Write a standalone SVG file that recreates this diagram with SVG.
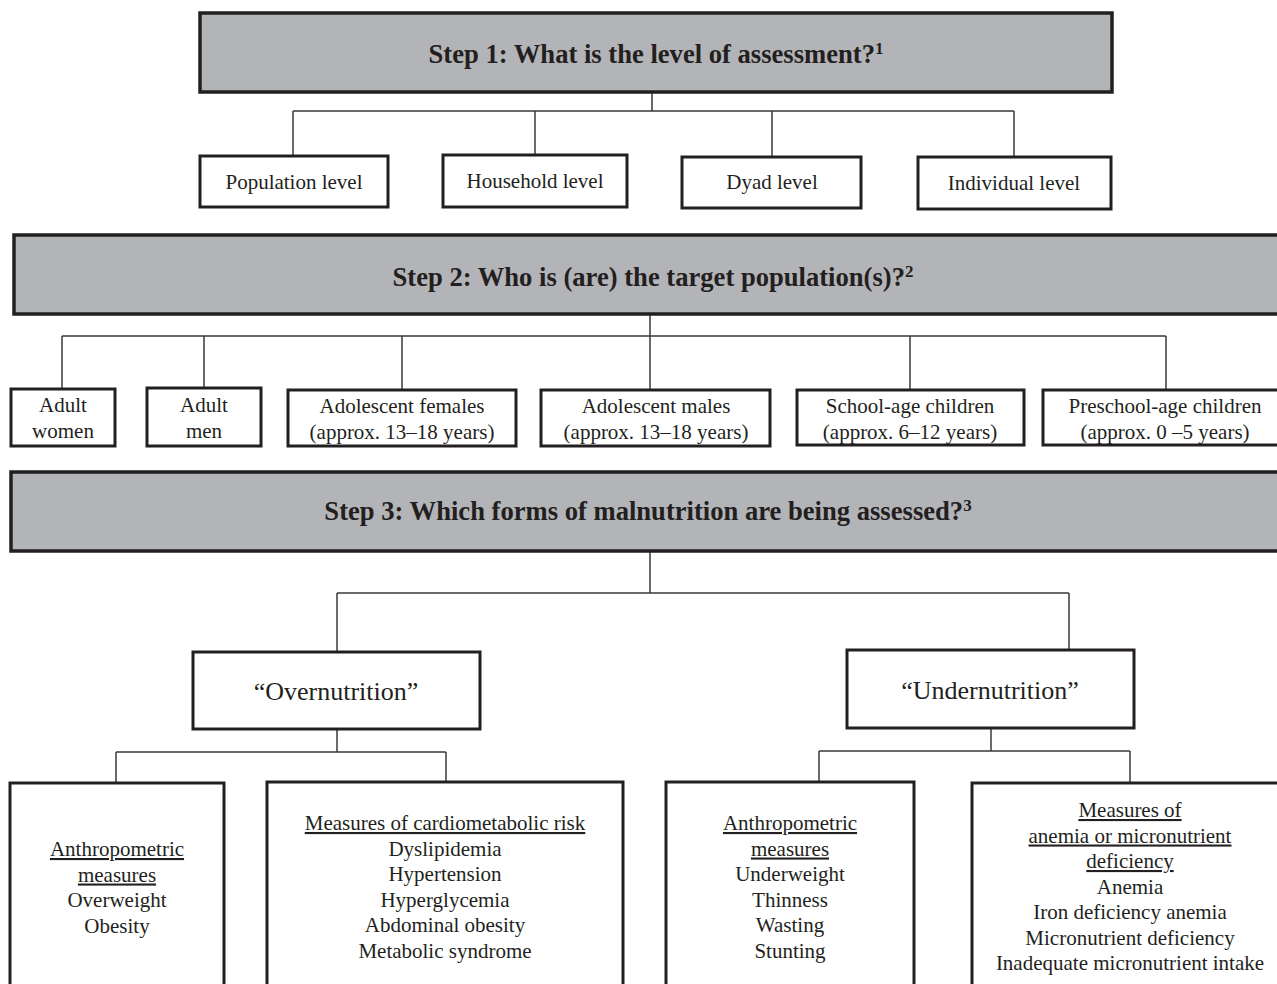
<svg xmlns="http://www.w3.org/2000/svg" width="1277" height="984" viewBox="0 0 1277 984">
<style>
.step{fill:#b3b4b7;stroke:#231f20;stroke-width:3.5}
.box{fill:#ffffff;stroke:#231f20;stroke-width:3}
.h{font-family:"Liberation Serif","Times New Roman",serif;font-weight:bold;font-size:26.6px;fill:#231f20;text-anchor:middle}
.sup{font-size:17px}
.t{font-family:"Liberation Serif","Times New Roman",serif;font-size:21px;fill:#231f20;text-anchor:middle}
.big{font-size:26px}
.u{text-decoration:underline}
.c{stroke:#3a3a3a;stroke-width:1.5;fill:none}
</style>
<rect width="1277" height="984" fill="#ffffff"/>
<g id="connectors">
<path class="c" d="M652 92V111M293 111H1014M293 111V156M535 111V155M772 111V156M1014 111V157"/>
<path class="c" d="M650 314V390M62 336H1166M62 336V389M204 336V388M402 336V390M910 336V390M1166 336V390"/>
<path class="c" d="M650 551V593M337 593H1069M337 593V652M1069 593V650"/>
<path class="c" d="M337 729V752M116 752H446M116 752V783M446 752V782"/>
<path class="c" d="M991 728V751M819 751H1130M819 751V782M1130 751V783"/>
</g>
<g id="step1">
<rect class="step" x="200" y="13" width="912" height="79"/>
<text class="h" x="656" y="63">Step 1: What is the level of assessment?<tspan class="sup" dy="-9">1</tspan></text>
</g>
<g id="population-level">
<rect class="box" x="200" y="156" width="188" height="51"/>
<text class="t" x="294" y="189">Population level</text>
</g>
<g id="household-level">
<rect class="box" x="443" y="155" width="184" height="52"/>
<text class="t" x="535" y="188">Household level</text>
</g>
<g id="dyad-level">
<rect class="box" x="682" y="157" width="179" height="51"/>
<text class="t" x="772" y="189">Dyad level</text>
</g>
<g id="individual-level">
<rect class="box" x="918" y="157" width="193" height="52"/>
<text class="t" x="1014" y="190">Individual level</text>
</g>
<g id="step2">
<rect class="step" x="14" y="235" width="1280" height="79"/>
<text class="h" x="653" y="286">Step 2: Who is (are) the target population(s)?<tspan class="sup" dy="-9">2</tspan></text>
</g>
<g id="adult-women">
<rect class="box" x="11" y="389" width="104" height="57"/>
<text class="t" x="63" y="412">Adult</text>
<text class="t" x="63" y="438">women</text>
</g>
<g id="adult-men">
<rect class="box" x="147" y="388" width="114" height="58"/>
<text class="t" x="204" y="412">Adult</text>
<text class="t" x="204" y="438">men</text>
</g>
<g id="adolescent-females">
<rect class="box" x="288" y="390" width="228" height="56"/>
<text class="t" x="402" y="413">Adolescent females</text>
<text class="t" x="402" y="439">(approx. 13–18 years)</text>
</g>
<g id="adolescent-males">
<rect class="box" x="541" y="390" width="229" height="56"/>
<text class="t" x="656" y="413">Adolescent males</text>
<text class="t" x="656" y="439">(approx. 13–18 years)</text>
</g>
<g id="school-age-children">
<rect class="box" x="797" y="390" width="227" height="55"/>
<text class="t" x="910" y="413">School-age children</text>
<text class="t" x="910" y="439">(approx. 6–12 years)</text>
</g>
<g id="preschool-age-children">
<rect class="box" x="1043" y="390" width="245" height="55"/>
<text class="t" x="1165" y="413">Preschool-age children</text>
<text class="t" x="1165" y="439">(approx. 0 –5 years)</text>
</g>
<g id="step3">
<rect class="step" x="11" y="472" width="1283" height="79"/>
<text class="h" x="648" y="520">Step 3: Which forms of malnutrition are being assessed?<tspan class="sup" dy="-9">3</tspan></text>
</g>
<g id="overnutrition">
<rect class="box" x="193" y="652" width="287" height="77"/>
<text class="t big" x="336" y="700">“Overnutrition”</text>
</g>
<g id="undernutrition">
<rect class="box" x="847" y="650" width="287" height="78"/>
<text class="t big" x="990" y="699">“Undernutrition”</text>
</g>
<g id="over-anthropometric">
<rect class="box" x="10" y="783" width="214" height="210"/>
<text class="t u" x="117" y="856">Anthropometric</text>
<text class="t u" x="117" y="881.5">measures</text>
<text class="t" x="117" y="907">Overweight</text>
<text class="t" x="117" y="932.5">Obesity</text>
</g>
<g id="cardiometabolic">
<rect class="box" x="267" y="782" width="356" height="211"/>
<text class="t u" x="445" y="830">Measures of cardiometabolic risk</text>
<text class="t" x="445" y="855.5">Dyslipidemia</text>
<text class="t" x="445" y="881">Hypertension</text>
<text class="t" x="445" y="906.5">Hyperglycemia</text>
<text class="t" x="445" y="932">Abdominal obesity</text>
<text class="t" x="445" y="957.5">Metabolic syndrome</text>
</g>
<g id="under-anthropometric">
<rect class="box" x="666" y="782" width="248" height="211"/>
<text class="t u" x="790" y="830">Anthropometric</text>
<text class="t u" x="790" y="855.5">measures</text>
<text class="t" x="790" y="881">Underweight</text>
<text class="t" x="790" y="906.5">Thinness</text>
<text class="t" x="790" y="932">Wasting</text>
<text class="t" x="790" y="957.5">Stunting</text>
</g>
<g id="anemia-micronutrient">
<rect class="box" x="972" y="783" width="320" height="210"/>
<text class="t u" x="1130" y="817">Measures of</text>
<text class="t u" x="1130" y="842.5">anemia or micronutrient</text>
<text class="t u" x="1130" y="868">deficiency</text>
<text class="t" x="1130" y="893.5">Anemia</text>
<text class="t" x="1130" y="919">Iron deficiency anemia</text>
<text class="t" x="1130" y="944.5">Micronutrient deficiency</text>
<text class="t" x="1130" y="970">Inadequate micronutrient intake</text>
</g>
</svg>
